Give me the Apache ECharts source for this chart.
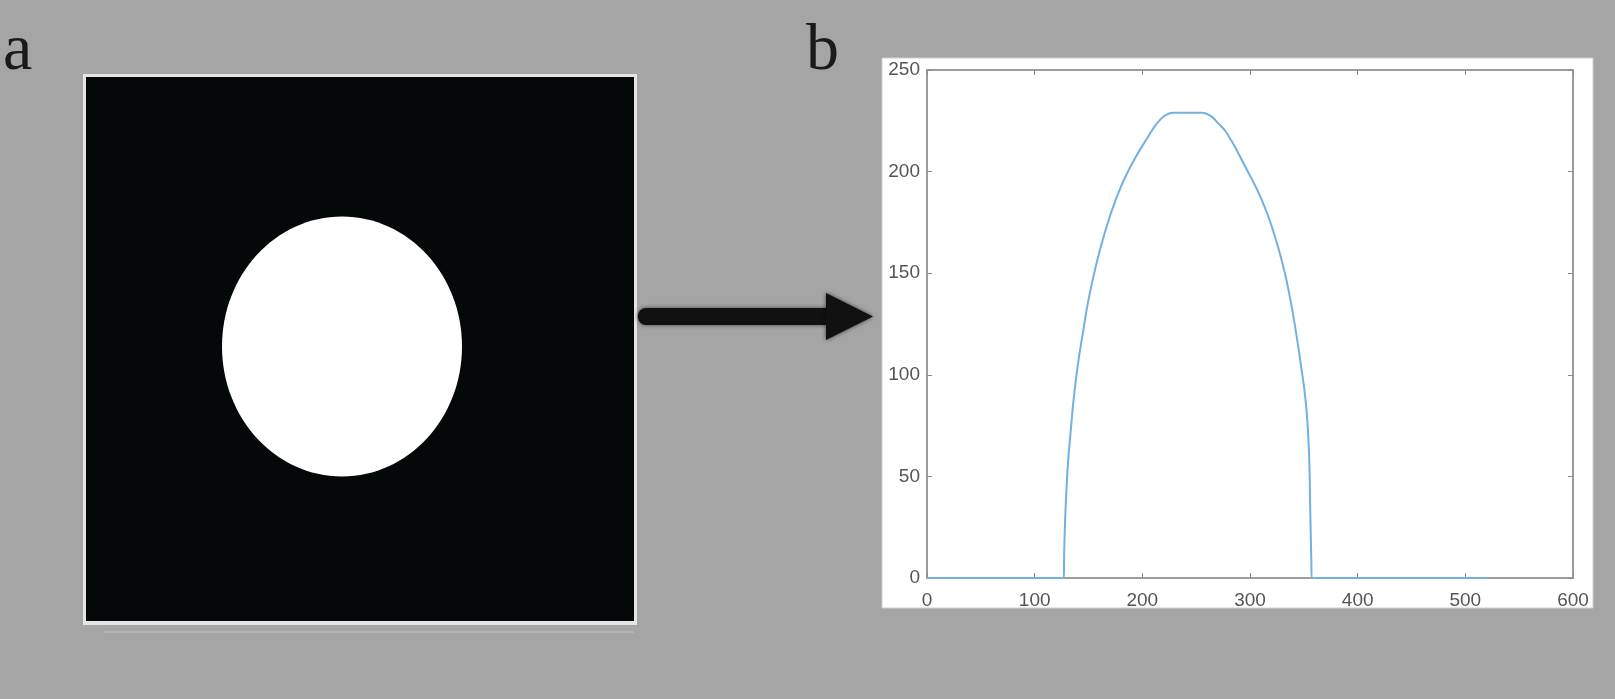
<!DOCTYPE html>
<html>
<head>
<meta charset="utf-8">
<script src="https://cdn.jsdelivr.net/npm/echarts@6/dist/echarts.min.js"></script>
<style>
html,body{margin:0;padding:0;background:#a5a5a5;}
#chart{width:1615px;height:699px;}
</style>
</head>
<body>
<div id="chart"></div>
<script>
// ---- data (panel b profile) ----
var profileX = [0, 127, 127.4, 128, 129.2, 131, 133.6, 136.4, 140.4, 144.6, 150, 156.6, 165.2, 175.2, 188.5, 207.5, 214, 221, 229, 255, 263, 270, 279, 296, 311, 322, 331, 337.5, 343, 347.5, 351.5, 354, 355.2, 355.8, 356.4, 356.9, 357.4, 520];
var profileY = [0, 0, 12, 24, 40, 57, 73, 89, 106, 120, 137, 153, 170, 186, 202, 219, 224, 227.5, 229, 229, 227.5, 224, 218.5, 202, 186, 170, 153, 137, 120, 104, 88, 71, 55, 38, 22, 10, 0, 0];
var xTickValues = [0, 100, 200, 300, 400, 500, 600];
var yTickValues = [0, 50, 100, 150, 200, 250];
var panelLabels = ['a', 'b'];

var lineData = profileX.map(function (x, i) { return [x, profileY[i]]; });

var chart = echarts.init(document.getElementById('chart'), null, {renderer: 'canvas'});

var axisLineStyle = {color: '#9c9c9c', width: 2};
var tickStyle = {color: '#8a8a8a', width: 1};
var labelStyle = {color: '#555', fontSize: 19, fontFamily: 'Liberation Sans, Arial, sans-serif'};

chart.setOption({
  backgroundColor: '#a5a5a5',
  animation: false,
  grid: {left: 927, top: 70, width: 646, height: 508, containLabel: false},
  xAxis: [
    {type: 'value', min: xTickValues[0], max: xTickValues[xTickValues.length - 1], interval: 100, position: 'bottom',
     axisLine: {show: true, onZero: false, lineStyle: axisLineStyle},
     axisTick: {show: true, inside: true, length: 5, lineStyle: tickStyle},
     axisLabel: Object.assign({margin: 13, showMinLabel: true, showMaxLabel: true}, labelStyle),
     splitLine: {show: false}},
    {type: 'value', min: 0, max: 600, interval: 100, position: 'top',
     axisLine: {show: true, onZero: false, lineStyle: axisLineStyle},
     axisTick: {show: true, inside: true, length: 5, lineStyle: tickStyle},
     axisLabel: {show: false}, splitLine: {show: false}}
  ],
  yAxis: [
    {type: 'value', min: yTickValues[0], max: yTickValues[yTickValues.length - 1], interval: 50, position: 'left',
     axisLine: {show: true, onZero: false, lineStyle: axisLineStyle},
     axisTick: {show: true, inside: true, length: 5, lineStyle: tickStyle},
     axisLabel: Object.assign({margin: 7, showMinLabel: true, showMaxLabel: true}, labelStyle),
     splitLine: {show: false}},
    {type: 'value', min: 0, max: 250, interval: 50, position: 'right',
     axisLine: {show: true, onZero: false, lineStyle: axisLineStyle},
     axisTick: {show: true, inside: true, length: 5, lineStyle: tickStyle},
     axisLabel: {show: false}, splitLine: {show: false}}
  ],
  series: [{
    type: 'line',
    xAxisIndex: 0, yAxisIndex: 0,
    data: lineData,
    showSymbol: false,
    smooth: 0.5,
    lineStyle: {color: '#74b0e0', width: 2},
    z: 5
  }],
  graphic: {elements: [
    // white panel behind chart b
    {type: 'rect', z: -10, shape: {x: 882, y: 58, width: 711, height: 550}, style: {fill: '#ffffff', stroke: '#cfcfcf', lineWidth: 1}},
    // panel a frame
    {type: 'rect', z: -10, shape: {x: 83, y: 74, width: 554, height: 551}, style: {fill: '#e4e4e4'}},
    {type: 'rect', z: -9, shape: {x: 86, y: 77, width: 548, height: 544}, style: {fill: '#040808'}},
    {type: 'rect', z: -9, shape: {x: 103, y: 631, width: 531, height: 2}, style: {fill: '#b4b4b4'}},
    {type: 'ellipse', z: -8, shape: {cx: 342, cy: 346.5, rx: 120, ry: 130}, style: {fill: '#ffffff'}},
    // arrow
    {type: 'rect', z: -8, shape: {x: 638, y: 308, width: 192, height: 17, r: [8, 0, 0, 8]},
     style: {fill: '#111', shadowBlur: 4, shadowColor: 'rgba(0,0,0,0.6)'}},
    {type: 'polygon', z: -8, shape: {points: [[826, 293], [873, 316.5], [826, 340]]},
     style: {fill: '#111', shadowBlur: 4, shadowColor: 'rgba(0,0,0,0.6)'}},
    // panel letters
    {type: 'text', z: 10, x: 3, y: 19, style: {text: panelLabels[0], fill: '#1a1a1a', font: '66px "Liberation Serif", "DejaVu Serif", serif', verticalAlign: 'top'}},
    {type: 'text', z: 10, x: 806, y: 19, style: {text: panelLabels[1], fill: '#1a1a1a', font: '66px "Liberation Serif", "DejaVu Serif", serif', verticalAlign: 'top'}}
  ]}
});
</script>
</body>
</html>
